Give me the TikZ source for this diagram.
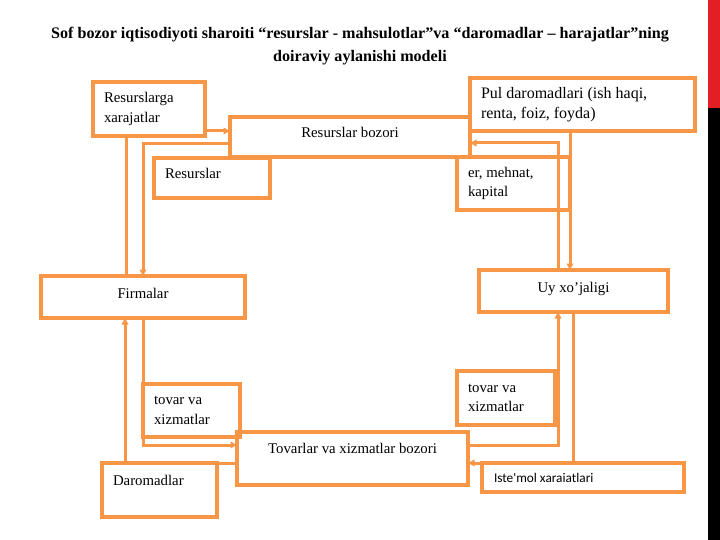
\documentclass[tikz,border=0pt]{standalone}
\usepackage{fontspec}
\setmainfont{Liberation Serif}
\newfontfamily\calibri{Carlito}
\usetikzlibrary{arrows.meta}
\definecolor{accent}{HTML}{F79646}
\definecolor{slidered}{HTML}{E31E24}

\begin{document}
\begin{tikzpicture}[x=1pt,y=-1pt,
    box/.style={draw=accent, line width=3.3pt, outer sep=0pt, inner ysep=0pt, font=\fontsize{14.8}{19.5}\selectfont},
    cbox/.style={box, align=center, text height=10pt, text depth=8pt},
    lbox/.style={box, align=flush left, inner xsep=11pt},
    flow/.style={draw=accent, line width=3pt},
    >={Triangle[length=6.5pt,width=6.5pt]}]

    \useasboundingbox (0,0) rectangle (720,540);
    \fill[slidered] (708,0) rectangle (720,108);
    \fill[black] (708,108) rectangle (720,540);

    \node[font=\bfseries\fontsize{16.1}{23}\selectfont, align=center] (title) at (360,46)
        {Sof bozor iqtisodiyoti sharoiti “resurslar - mahsulotlar”va “daromadlar – harajatlar”ning\\doiraviy aylanishi modeli};

    % yuqori qism: resurslar bozori
    \node[lbox, text width=90pt, minimum height=54pt] (rx) at (149,109) {Resurslarga\\xarajatlar};
    \node[cbox, minimum width=240pt, minimum height=40pt] (rb) at (350,137) {Resurslar bozori};
    \node[lbox, text width=203pt, minimum height=53pt, font=\fontsize{16}{19.5}\selectfont] (pul) at (582.5,104.5) {Pul daromadlari (ish haqi,\\renta, foiz, foyda)};
    \node[lbox, text width=94pt, minimum height=40pt, text height=10pt, text depth=8pt] (res) at (212,178) {Resurslar};
    \node[lbox, text width=91pt, minimum height=53pt] (emk) at (513.5,183.5) {er, mehnat,\\kapital};

    \node[cbox, minimum width=204pt, minimum height=42pt] (firma) at (143,297) {Firmalar};
    \node[cbox, minimum width=189pt, minimum height=42pt] (uy) at (573.5,291) {Uy xo’jaligi};

    % quyi qism: tovarlar va xizmatlar bozori
    \node[lbox, text width=75pt, minimum height=53pt] (tx1) at (191.5,410.5) {tovar va\\xizmatlar};
    \node[lbox, text width=76pt, minimum height=54pt] (tx2) at (506,398) {tovar va\\xizmatlar};
    \node[cbox, minimum width=231pt, minimum height=53pt, text depth=21pt] (tb) at (352.5,458.5) {Tovarlar va xizmatlar bozori};
    \node[lbox, text width=93pt, minimum height=54pt, text height=10pt, text depth=20pt] (dar) at (159.5,490) {Daromadlar};
    \node[lbox, inner xsep=12pt, text width=178pt, minimum height=29pt, font=\calibri\fontsize{13.3}{15}\selectfont] (ist) at (583,477.5) {Iste'mol xaraiatlari};

    \draw[flow,->] ([yshift=5pt]rx.south east) -- ([yshift=5pt]rb.west |- rx.south east);
    \draw[flow] ([xshift=33pt]rx.south west) -- ([xshift=33pt]rx.south west |- firma.north);
    \draw[flow,->] ([yshift=-27pt]rb.north west) -| (firma.north);
    \draw[flow,->] ([xshift=100pt]pul.south west) -- ([xshift=100pt]pul.south west |- uy.north);
    \draw[flow,->] ([xshift=79pt]uy.north west) |- ([yshift=-26pt]rb.north east);

    \draw[flow,->] (firma.south) |- ([yshift=-13pt]tb.north west);
    \draw[flow] ([yshift=-31pt]tb.north west) -- (dar.north east);
    \draw[flow,->] ([xshift=23pt]dar.north west) -- ([xshift=23pt]dar.north west |- firma.south);
    \draw[flow,->] ([yshift=-13pt]tb.north east) -| ([xshift=79pt]uy.south west);
    \draw[flow,->] ([xshift=94pt]uy.south west) |- ([yshift=-31pt]tb.north east);

\end{tikzpicture}
\end{document}
